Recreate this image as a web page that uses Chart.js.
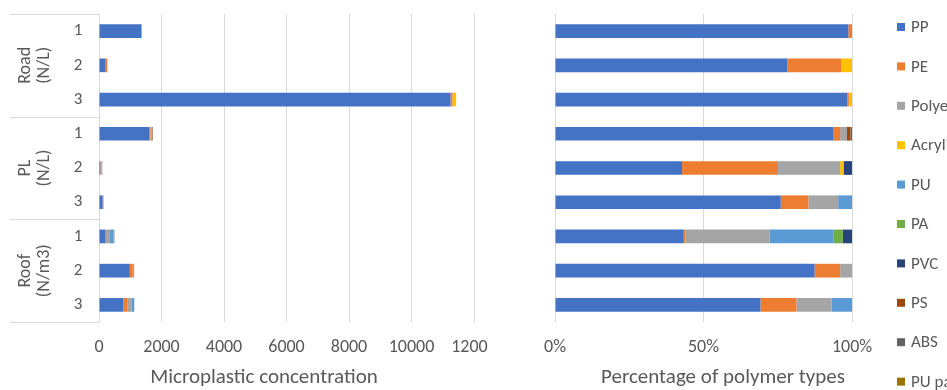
<!DOCTYPE html>
<html>
<head>
<meta charset="utf-8">
<script src="https://cdn.jsdelivr.net/npm/chart.js@4/dist/chart.umd.min.js"></script>
<style>
  html, body { margin: 0; padding: 0; background: #fff; width: 947px; height: 390px; overflow: hidden; position: relative; }
  #left  { position: absolute; left: 0;     top: 0; width: 488px; height: 390px; overflow: hidden; }
  #right { position: absolute; left: 495px; top: 0; width: 560px; height: 390px; }
  canvas { display: block; }
</style>
</head>
<body>
<div id="left"><canvas id="conc" width="520" height="390" style="width:520px;height:390px"></canvas></div>
<div id="right"><canvas id="share" width="560" height="390" style="width:560px;height:390px"></canvas></div>
<script>
// Sampling sites, units and replicate numbers
const groups      = ['Road', 'PL', 'Roof'];
const groupUnits  = ['(N/L)', '(N/L)', '(N/m3)'];
const replicates  = ['1', '2', '3'];
const samples     = ['Road 1', 'Road 2', 'Road 3', 'PL 1', 'PL 2', 'PL 3', 'Roof 1', 'Roof 2', 'Roof 3'];

// Polymer types and their colours
const polymers = ['PP', 'PE', 'Polyester', 'Acrylic', 'PU', 'PA', 'PVC', 'PS', 'ABS', 'PU paint'];
const colors   = ['#4472C4', '#ED7D31', '#A5A5A5', '#FFC000', '#5B9BD5', '#70AD47', '#264478', '#9E480E', '#636363', '#997300'];

// Microplastic concentration per polymer type, one value per sample
const pp        = [1353, 211, 11250, 1613, 45, 114, 212, 986, 781];
const pe        = [17, 49, 60, 38, 34, 14, 3, 97, 137];
const polyester = [0, 0, 0, 40, 22, 15, 138, 45, 134];
const acrylic   = [0, 10, 120, 0, 1.2, 0, 0, 0, 0];
const pu        = [0, 0, 0, 0, 0, 7, 106, 0, 77];
const pa        = [0, 0, 0, 0, 0, 0, 15, 0, 0];
const pvc       = [0, 0, 0, 0, 3, 0, 15, 0, 0];
const ps        = [0, 0, 0, 20, 0, 0, 0, 0, 0];
const abs       = [0, 0, 0, 9, 0, 0, 0, 0, 0];
const puPaint   = [0, 0, 0, 0, 0, 0, 0, 0, 0];

// Axis ticks
const concTicks  = [0, 2000, 4000, 6000, 8000, 10000, 12000];
const shareTicks = [0, 50, 100];

const series = [pp, pe, polyester, acrylic, pu, pa, pvc, ps, abs, puPaint];
const totals = samples.map((_, i) => series.reduce((s, arr) => s + arr[i], 0));

const FONT = 'Carlito, Lato, sans-serif';
const TEXT = '#595959';
const GRID = '#d9d9d9';
Chart.defaults.font.family = FONT;
Chart.defaults.color = TEXT;

// Two-level category labels (replicate + site with unit) on the left chart
const categoryAxis = {
  id: 'categoryAxis',
  afterDraw(chart) {
    const { ctx, chartArea, scales: { y } } = chart;
    ctx.save();
    ctx.fillStyle = TEXT;
    ctx.textAlign = 'center';
    ctx.textBaseline = 'middle';
    ctx.font = '17px ' + FONT;
    samples.forEach((s, i) => ctx.fillText(replicates[i % 3], 78, y.getPixelForValue(i)));

    const half = (y.getPixelForValue(1) - y.getPixelForValue(0)) / 2;
    ctx.strokeStyle = GRID;
    ctx.lineWidth = 1;
    for (let g = 0; g <= groups.length; g++) {
      const yy = Math.round(y.getPixelForValue(g * 3) - half) + 0.5;
      ctx.beginPath();
      ctx.moveTo(10, yy);
      ctx.lineTo(chartArea.left, yy);
      ctx.stroke();
    }

    ctx.font = '18px ' + FONT;
    groups.forEach((g, gi) => {
      const cy = y.getPixelForValue(gi * 3 + 1);
      [[g, 25], [groupUnits[gi], 44]].forEach(([txt, x]) => {
        ctx.save();
        ctx.translate(x, cy);
        ctx.rotate(-Math.PI / 2);
        ctx.fillText(txt, 0, 0);
        ctx.restore();
      });
    });
    ctx.restore();
  }
};

// Horizontal axis title drawn under the tick labels
function axisTitle(text, cx) {
  return {
    id: 'axisTitle',
    afterDraw(chart) {
      const ctx = chart.ctx;
      ctx.save();
      ctx.fillStyle = TEXT;
      ctx.font = '21px ' + FONT;
      ctx.textAlign = 'center';
      ctx.textBaseline = 'middle';
      ctx.fillText(text, cx, 378);
      ctx.restore();
    }
  };
}

// Vertical legend to the right of the percentage chart
const sideLegend = {
  id: 'sideLegend',
  afterDraw(chart) {
    const ctx = chart.ctx;
    ctx.save();
    ctx.font = '17px ' + FONT;
    ctx.textAlign = 'left';
    ctx.textBaseline = 'middle';
    chart.data.datasets.forEach((ds, k) => {
      const yy = 27 + 39.4 * k;
      ctx.fillStyle = ds.backgroundColor;
      ctx.fillRect(402, yy - 4, 8, 8);
      ctx.fillStyle = TEXT;
      ctx.fillText(ds.label, 416, yy + 1);
    });
    ctx.restore();
  }
};

function datasets(values) {
  return polymers.map((name, k) => ({
    label: name,
    data: values[k],
    backgroundColor: colors[k],
    borderWidth: 0,
    barPercentage: 0.4,
    categoryPercentage: 1
  }));
}

const baseOptions = {
  indexAxis: 'y',
  responsive: false,
  animation: false,
  devicePixelRatio: 1,
  plugins: { legend: { display: false }, tooltip: { enabled: false } }
};

function valueAxis(min, max, ticks, format) {
  return {
    stacked: true,
    min, max,
    afterBuildTicks: axis => { axis.ticks = ticks.map(v => ({ value: v })); },
    afterFit: axis => { axis.height = 34; },
    ticks: { font: { size: 18 }, padding: 15, callback: format, maxRotation: 0 },
    grid: { color: GRID, drawTicks: false },
    border: { display: false }
  };
}

const categoryScale = { stacked: true, display: false };

new Chart(document.getElementById('conc'), {
  type: 'bar',
  data: { labels: samples, datasets: datasets(series) },
  options: {
    ...baseOptions,
    layout: { padding: { left: 99, right: 46, top: 14, bottom: 34 } },
    scales: {
      x: valueAxis(concTicks[0], concTicks[concTicks.length - 1], concTicks, v => String(v)),
      y: categoryScale
    }
  },
  plugins: [categoryAxis, axisTitle('Microplastic concentration', 264)]
});

new Chart(document.getElementById('share'), {
  type: 'bar',
  data: {
    labels: samples,
    datasets: datasets(series.map(arr => arr.map((v, i) => v / totals[i] * 100)))
  },
  options: {
    ...baseOptions,
    layout: { padding: { left: 60, right: 203, top: 14, bottom: 34 } },
    scales: {
      x: valueAxis(shareTicks[0], shareTicks[shareTicks.length - 1], shareTicks, v => v + '%'),
      y: categoryScale
    }
  },
  plugins: [sideLegend, axisTitle('Percentage of polymer types', 228)]
});
</script>
</body>
</html>
